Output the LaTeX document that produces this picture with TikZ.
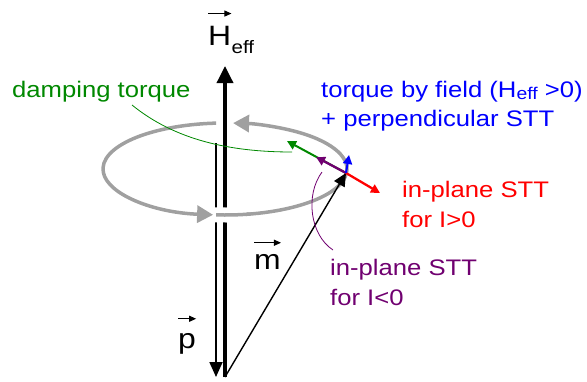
\documentclass[tikz,border=0pt]{standalone}
\usepackage{fontspec}
\setmainfont[FakeStretch=1.14]{Liberation Sans}
\usepackage{tikz}
\usetikzlibrary{arrows.meta,calc,positioning}
\definecolor{dampgreen}{RGB}{0,136,0}
\definecolor{sttpurple}{RGB}{112,0,112}
\definecolor{ringgray}{RGB}{160,160,160}
\newcommand\lowsub[1]{\raisebox{-2.5pt}{\fontsize{17}{17}\selectfont#1}}
\tikzset{
  lbl/.style={inner sep=0pt,anchor=base west,font=\fontsize{22.5}{27}\selectfont},
  veclbl/.style={inner sep=0pt,anchor=base west,font=\fontsize{28}{32}\selectfont},
  vecbar/.style={line width=1pt,-{Triangle[length=7pt,width=6pt]}},
  ring/.style={ringgray,line width=3.5pt,-{Triangle[length=16pt,width=17pt]}},
  torque/.style={line width=2.3pt,-{Triangle[length=9pt,width=9pt]}},
  pointer/.style={line width=0.8pt}
}

\begin{document}
\begin{tikzpicture}[x=1pt,y=-1pt]
     \useasboundingbox (0,0) rectangle (587,381);
     \coordinate (ringc) at (225,169);
     \coordinate (base) at (225,377);
     \coordinate (htip) at (225,66);
     \coordinate (ptop) at (216,143);
     \coordinate (pend) at (216,377);
     \coordinate (mtip) at (346,173);
     \coordinate (ipplus) at (380,193);
     \coordinate (ipminus) at (316,157);
     \coordinate (damp) at (287,141);
     \coordinate (field) at (349,155);
     \draw[ring] ($(ringc)+(265.8:122 and 46)$) arc[start angle=265.8,end angle=95.6,x radius=122,y radius=46];
     \draw[ring] ($(ringc)+(94.2:122 and 46)$) arc[start angle=94.2,end angle=-86.2,x radius=122,y radius=46];
     \draw[line width=1.8pt,-{Triangle[length=15pt,width=13pt]}] (ptop) -- (pend);
     \draw[line width=3.5pt,-{Triangle[length=17pt,width=16pt]}] (base) -- (htip);
     \draw[white,line width=15pt] ($(ringc)+(95:122 and 46)$) arc[start angle=95,end angle=80,x radius=122,y radius=46];
     \draw[ringgray,line width=3.5pt] ($(ringc)+(94.2:122 and 46)$) arc[start angle=94.2,end angle=78,x radius=122,y radius=46];
     \draw[line width=1.4pt,-{Triangle[length=13pt,width=12pt]}] (base) -- (mtip);
     \draw[torque,dampgreen,line width=2pt] (mtip) -- (damp);
     \draw[torque,sttpurple] (mtip) -- (ipminus);
     \draw[torque,red] (mtip) -- (ipplus);
     \draw[torque,blue,line width=2pt] (mtip) -- (field);

     \node[veclbl] (hlab) at (208,45) {H};
     \node[veclbl,font=\fontsize{18}{18}\selectfont,yshift=-8pt] (hsub) at (hlab.base east) {eff};
     \node[veclbl] (mlab) at (254,269) {m};
     \node[veclbl] (plab) at (178,348) {p};
     \draw[vecbar] ([yshift=12pt]hlab.north west) -- ([yshift=12pt]hlab.north east);
     \draw[vecbar] ([yshift=11pt]mlab.north west) -- ([yshift=11pt]mlab.north east);
     \draw[vecbar] ([yshift=14pt]plab.north west) -- ([yshift=14pt]plab.north east);

     \node[lbl,dampgreen] (damptxt) at (12,97) {damping torque};
     \node[lbl,blue] (fieldtxt) at (321,97) {torque by field (H\lowsub{eff} >0)};
     \node[lbl,blue] (perptxt) at (321,126) {+ perpendicular STT};
     \node[lbl,red] (plustxt) at (402,197) {in-plane STT};
     \node[lbl,red] (plusI) at (402,227) {for I>0};
     \node[lbl,sttpurple] (minustxt) at (330,275) {in-plane STT};
     \node[lbl,sttpurple] (minusI) at (330,305) {for I<0};
     \draw[pointer,dampgreen] (132,105) .. controls (175,140) and (230,152) .. (292,152);
     \draw[pointer,sttpurple] (333,250) .. controls (310,235) and (305,195) .. (322,172);
\end{tikzpicture}
\end{document}
